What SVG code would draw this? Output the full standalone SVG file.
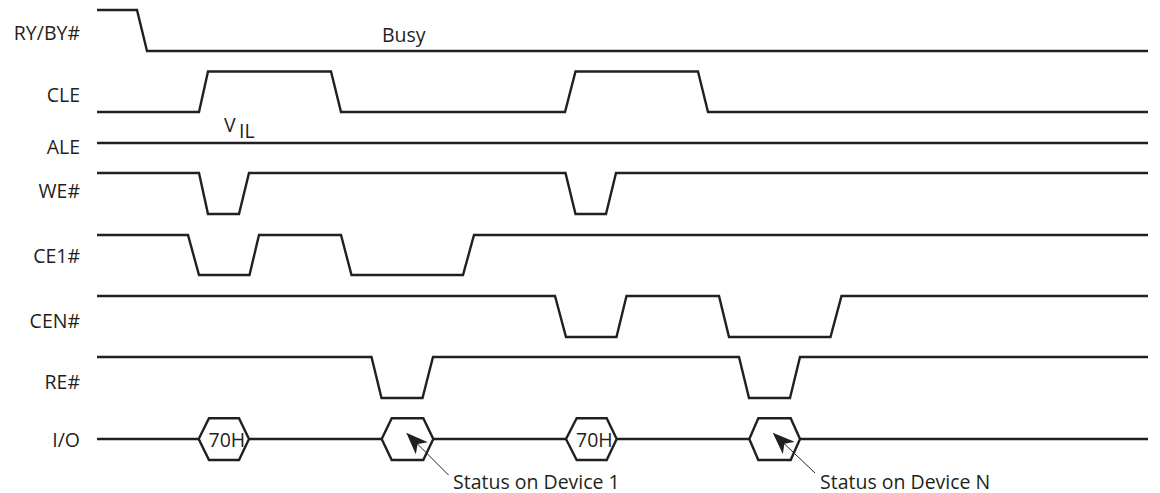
<svg xmlns="http://www.w3.org/2000/svg" width="1160" height="493" viewBox="0 0 1160 493">
<style>
.w{fill:none;stroke:#231f20;stroke-width:2.4;stroke-linejoin:miter}
.hx{fill:#fff;stroke:#231f20;stroke-width:2.4}
.t{font-family:"Open Sans","Liberation Sans",sans-serif;font-size:19.5px;fill:#231f20}
.l{text-anchor:end}
.c{fill:none;stroke:#231f20;stroke-width:1}
</style>
<defs>
<marker id="ah" viewBox="0 0 22 17" refX="21" refY="8.5" markerWidth="22" markerHeight="17" markerUnits="userSpaceOnUse" orient="auto">
<path d="M22,8.5 L0,0 L6,8.5 L0,17 Z" fill="#231f20"/>
</marker>
</defs>
<rect width="1160" height="493" fill="#fff"/>
<g id="sig-rybusy">
<text class="t l" x="80" y="40">RY/BY#</text>
<polyline class="w" points="97,10 137,10 147,51 1148,51"/>
<text class="t" x="382" y="42">Busy</text>
</g>
<g id="sig-cle">
<text class="t l" x="80" y="102">CLE</text>
<polyline class="w" points="97,112 199,112 208,71.5 331,71.5 341,112 565,112 575.5,71.5 698,71.5 708,112 1148,112"/>
</g>
<g id="sig-ale">
<text class="t l" x="80" y="154">ALE</text>
<line class="w" x1="97" y1="143" x2="1148" y2="143"/>
<text class="t" x="224" y="132" font-size="16.5">V</text>
<text class="t" x="239" y="138">IL</text>
</g>
<g id="sig-we">
<text class="t l" x="80" y="198">WE#</text>
<polyline class="w" points="97,173 199,173 208,214 239,214 249,173 565.5,173 575.5,214 606,214 616,173 1148,173"/>
</g>
<g id="sig-ce1">
<text class="t l" x="80" y="263">CE1#</text>
<polyline class="w" points="97,235 188,235 199,275 249.5,275 259,235 341,235 351.5,275 463,275 474,235 1148,235"/>
</g>
<g id="sig-cen">
<text class="t l" x="80" y="328">CEN#</text>
<polyline class="w" points="97,296 555,296 566,337 616.5,337 626.5,296 719,296 729,337 830.5,337 841.5,296 1148,296"/>
</g>
<g id="sig-re">
<text class="t l" x="80" y="389">RE#</text>
<polyline class="w" points="97,357 371.5,357 381.5,398 422.5,398 433,357 739,357 749,398 790,398 800,357 1148,357"/>
</g>
<g id="sig-io">
<text class="t l" x="80" y="447">I/O</text>
<polyline class="w" points="97,439 198.7,439"/>
<polyline class="w" points="249,439 381.7,439"/>
<polyline class="w" points="433.3,439 566,439"/>
<polyline class="w" points="616.7,439 749.3,439"/>
<polyline class="w" points="800,439 1148,439"/>
</g>
<g id="io-70h-1">
<polygon class="hx" points="198.7,439 209,418.3 239,418.3 249,439 239,460 209,460"/>
<text class="t" x="208.5" y="447">70H</text>
</g>
<g id="io-status-1">
<polygon class="hx" points="381.7,439 391.7,418.3 423.3,418.3 433.3,439 423.3,460 391.7,460"/>
</g>
<g id="io-70h-2">
<polygon class="hx" points="566,439 576.7,418.3 606.7,418.3 616.7,439 606.7,460 576.7,460"/>
<text class="t" x="576" y="447">70H</text>
</g>
<g id="io-status-n">
<polygon class="hx" points="749.3,439 758.3,418.3 790.7,418.3 800,439 790.7,460 758.3,460"/>
</g>
<g id="label-status-1">
<text class="t" x="453" y="489">Status on Device 1</text>
</g>
<g id="label-status-n">
<text class="t" x="820" y="489">Status on Device N</text>
</g>
<g id="connectors">
<line class="c" x1="448.5" y1="475" x2="407" y2="433.5" marker-end="url(#ah)"/>
<line class="c" x1="815" y1="473" x2="773.5" y2="433.5" marker-end="url(#ah)"/>
</g>
</svg>
